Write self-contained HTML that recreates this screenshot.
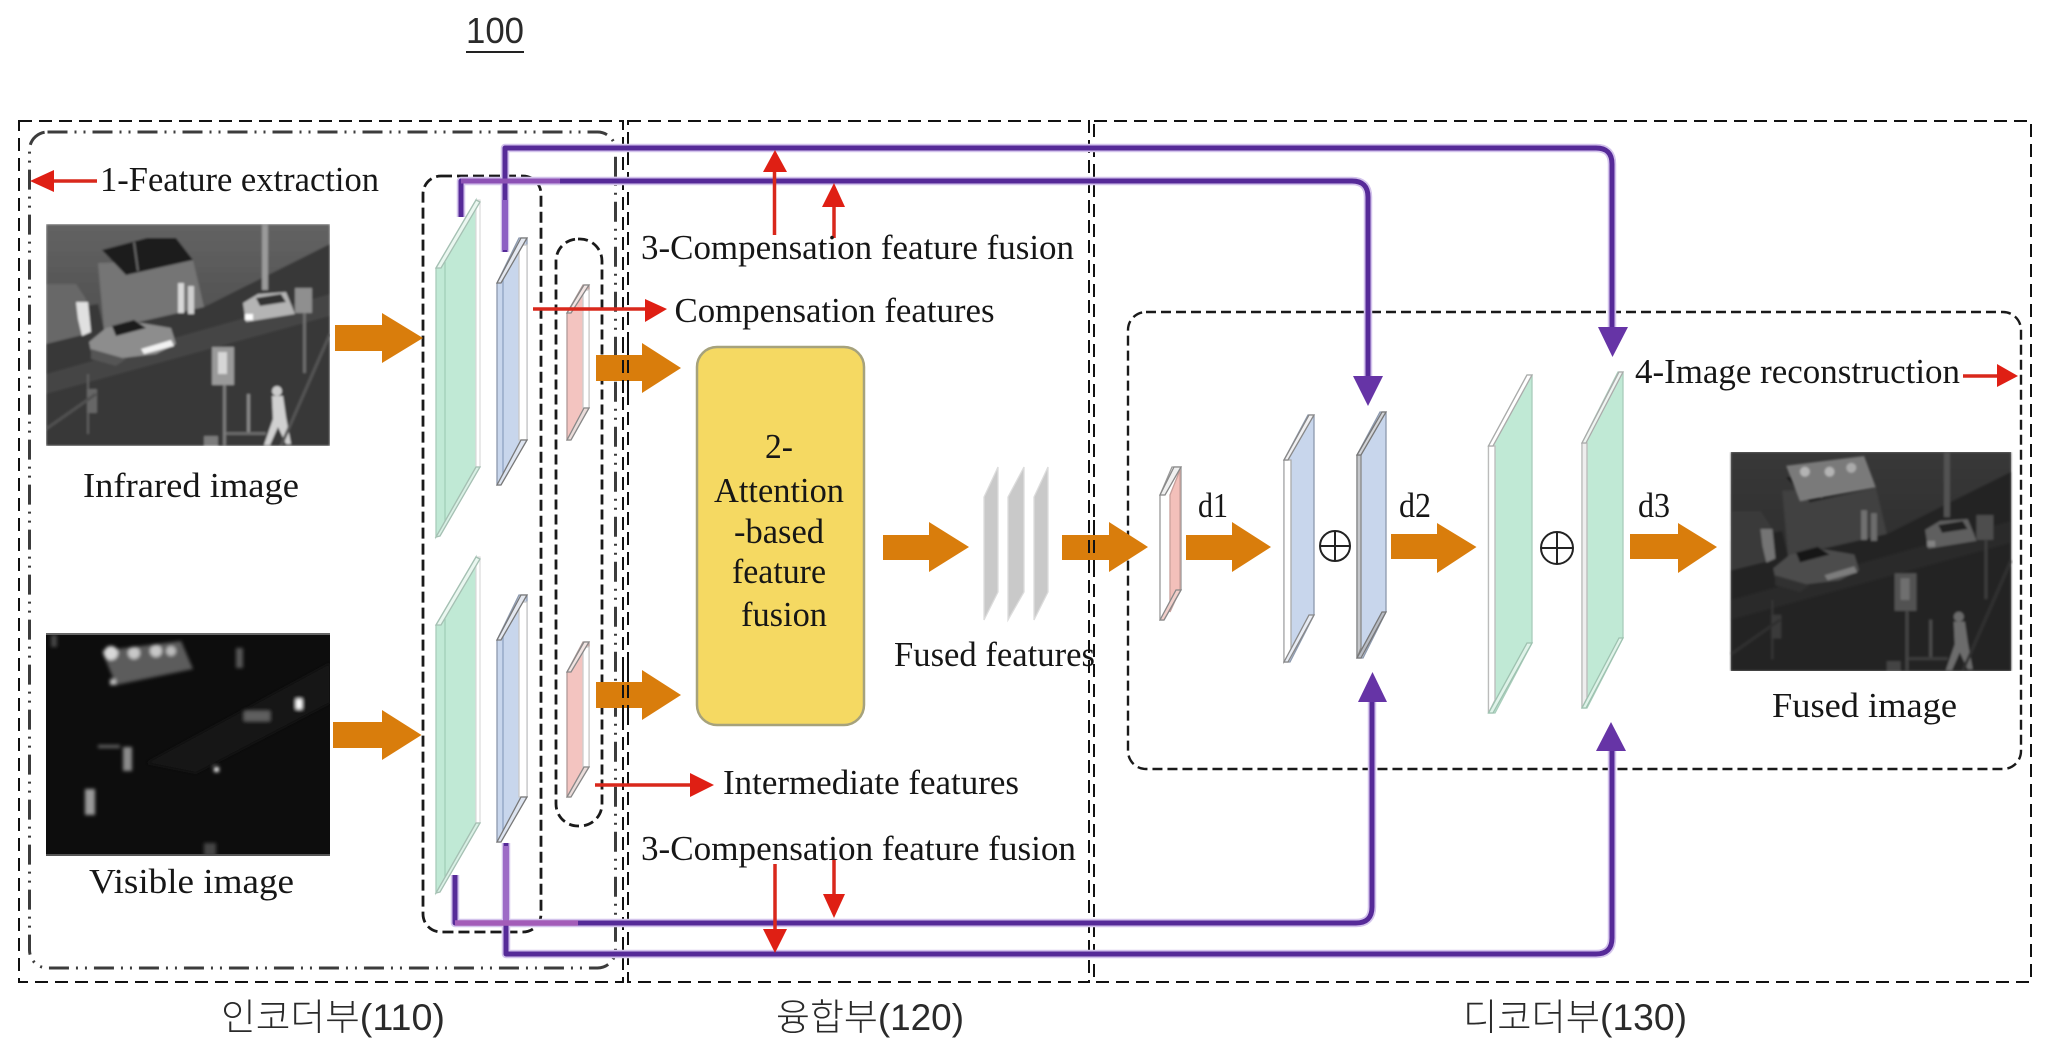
<!DOCTYPE html>
<html><head><meta charset="utf-8"><title>Diagram</title>
<style>
html,body{margin:0;padding:0;background:#fff;width:2048px;height:1063px;overflow:hidden}
svg{display:block}
.t{font-family:"Liberation Serif",serif;font-size:35px;fill:#161616}
.k{font-family:"Liberation Sans","Noto Sans CJK KR",sans-serif;font-size:37px;fill:#2a2a2a;font-weight:300}
</style></head><body>
<svg width="2048" height="1063" viewBox="0 0 2048 1063" xmlns="http://www.w3.org/2000/svg">
<defs>
<filter id="b" x="-5%" y="-5%" width="110%" height="110%"><feGaussianBlur stdDeviation="1.1"/></filter>
<filter id="b2" x="-5%" y="-5%" width="110%" height="110%"><feGaussianBlur stdDeviation="1.8"/></filter>
<linearGradient id="bg" x1="0" y1="0" x2="0" y2="1"><stop offset="0" stop-color="#636363"/><stop offset="1" stop-color="#383838"/></linearGradient>
<g id="scene" filter="url(#b)">
<rect width="284" height="222" fill="url(#bg)"/>
<path d="M0 90L52 80L58 106L158 83L284 20V222H0Z" fill="#373737"/>
<path d="M0 150L284 70V92L0 170Z" fill="#454545"/>
<path d="M52 39L147 36L158 83L58 106Z" fill="#747474"/>
<path d="M56 26L101 14L130 14L147 36L80 51Z" fill="#1f1f1f"/>
<path d="M88 18L92 47" stroke="#666" stroke-width="2"/>
<path d="M0 60H30L40 75V110L0 120Z" fill="#686868"/>
<path d="M30 78L42 78L45 108L36 112L32 95Z" fill="#e0e0e0"/>
<rect x="132" y="59" width="6" height="30" fill="#d8d8d8"/><rect x="142" y="62" width="6" height="28" fill="#cfcfcf"/>
<rect x="216" y="1" width="6" height="65" fill="#9a9a9a"/>
<path d="M197 79L212 70L240 68L249 90L200 98Z" fill="#b4b4b4"/><path d="M210 74L235 70L240 78L214 82Z" fill="#333"/>
<rect x="199" y="90" width="8" height="6" fill="#fff"/>
<rect x="249" y="64" width="17" height="25" fill="#8f8f8f"/><rect x="257" y="89" width="3" height="60" fill="#6d6d6d"/>
<path d="M43 118L60 104L90 98L125 104L130 120L110 130L60 136L46 132Z" fill="#8d8d8d"/>
<path d="M66 102L88 96L100 104L70 112Z" fill="#1a1a1a"/>
<path d="M95 125L125 116L128 122L98 130Z" fill="#f2f2f2"/>
<path d="M45 125L80 135L70 142L45 135Z" fill="#555"/>
<rect x="166" y="123" width="22" height="38" fill="#9a9a9a"/><rect x="172" y="128" width="9" height="22" fill="#d6d6d6"/>
<rect x="177" y="161" width="3" height="60" fill="#7c7c7c"/><rect x="201" y="170" width="3" height="40" fill="#8a8a8a"/>
<rect x="180" y="208" width="40" height="3" fill="#6a6a6a"/>
<rect x="41" y="150" width="2" height="60" fill="#606060"/>
<rect x="41" y="165" width="10" height="24" fill="#666"/>
<circle cx="231" cy="167" r="5" fill="#ccc"/>
<path d="M226 172H237L240 193L245 220H240L232 203L224 221H218L227 195Z" fill="#d0d0d0"/>
<rect x="158" y="212" width="14" height="10" fill="#7c7c7c"/>
<path d="M284 110L235 222" stroke="#555" stroke-width="3"/>
<path d="M0 205L50 170" stroke="#515151" stroke-width="3"/>
</g>
</defs>
<rect width="2048" height="1063" fill="#fff"/>

<!-- images -->
<svg x="46" y="224" width="284" height="222" viewBox="0 0 284 222"><use href="#scene"/></svg>
<svg x="46" y="633" width="284" height="223" viewBox="0 0 284 223">
<rect width="284" height="223" fill="#0d0d0d"/>
<g filter="url(#b2)">
<path d="M100 130L284 30V70L150 140Z" fill="#171717"/>
<path d="M56 18L135 8L147 36L70 52Z" fill="#5c5c5c"/>
<circle cx="65" cy="20" r="7" fill="#d8d8d8"/><circle cx="88" cy="20" r="6" fill="#c8c8c8"/><circle cx="110" cy="18" r="6" fill="#c8c8c8"/><circle cx="125" cy="18" r="5" fill="#bbb"/>
<rect x="64" y="46" width="6" height="6" fill="#bbb"/>
<rect x="250" y="66" width="6" height="10" fill="#fff"/>
<rect x="198" y="78" width="26" height="10" fill="#5e5e5e"/>
<rect x="77" y="114" width="9" height="24" fill="#8a8a8a"/><rect x="52" y="112" width="22" height="3" fill="#666"/>
<rect x="39" y="156" width="10" height="26" fill="#999"/>
<rect x="168" y="134" width="5" height="5" fill="#eee"/>
<rect x="158" y="210" width="12" height="13" fill="#444"/>
<rect x="190" y="15" width="7" height="20" fill="#555"/><rect x="5" y="2" width="6" height="12" fill="#444"/>
</g>
<rect width="284" height="2" fill="#666"/><rect y="221" width="284" height="2" fill="#555"/>
</svg>
<svg x="1729" y="452" width="284" height="219" viewBox="0 0 284 222">
<use href="#scene"/>
<rect width="284" height="222" fill="#111" opacity=".52"/>
<g filter="url(#b)"><path d="M56 14L135 4L147 36L70 50Z" fill="#7a7a7a"/><circle cx="75" cy="20" r="5" fill="#b4b4b4"/><circle cx="100" cy="20" r="5" fill="#b4b4b4"/><circle cx="122" cy="16" r="5" fill="#aaa"/></g>
</svg>

<!-- region boxes -->
<g fill="none" stroke="#111" stroke-width="2" stroke-dasharray="13 7">
<rect x="19" y="121" width="604" height="861"/>
<rect x="628" y="121" width="461" height="861"/>
<rect x="1094" y="121" width="937" height="861"/>
</g>
<rect x="29.5" y="132" width="586" height="836" rx="18" fill="none" stroke="#3c3c3c" stroke-width="3" stroke-dasharray="20 7 2 7 2 7"/>
<rect x="423" y="176" width="118" height="756" rx="18" fill="none" stroke="#1a1a1a" stroke-width="2.8" stroke-dasharray="11 5"/>
<rect x="556" y="239" width="46" height="587" rx="22" fill="none" stroke="#1a1a1a" stroke-width="2.8" stroke-dasharray="10 5"/>
<rect x="1128" y="312" width="893" height="457" rx="18" fill="none" stroke="#1a1a1a" stroke-width="2.4" stroke-dasharray="10 5"/>

<!-- layers -->
<g stroke-width="1.3">
<path d="M436 268L476 200V467L436 537Z" fill="#c0e9d5" stroke="#a9cdbb"/>
<path d="M445 262V522" stroke="#a2cfb9" fill="none"/>
<path d="M476 200H480V467H476Z" fill="#fff" stroke="#ddd"/>
<path d="M436 268L441 268L480 202L476 200Z" fill="#eaf7f0" stroke="#a5c0b3"/>
<path d="M436 537L440 536L480 467L476 467Z" fill="#d9f0e5" stroke="#a5c0b3"/>
<path d="M436 625L476 557V823L436 893Z" fill="#c0e9d5" stroke="#a9cdbb"/>
<path d="M445 619V878" stroke="#a2cfb9" fill="none"/>
<path d="M476 557H480V823H476Z" fill="#fff" stroke="#ddd"/>
<path d="M436 625L441 625L480 559L476 557Z" fill="#eaf7f0" stroke="#a5c0b3"/>
<path d="M436 893L440 892L480 823L476 823Z" fill="#d9f0e5" stroke="#a5c0b3"/>
<path d="M497 283L519 238H527V440L500 485H497Z" fill="#c8d6ec" stroke="#8d99ad"/>
<path d="M503 278V475" stroke="#8fa3c2" fill="none"/>
<path d="M519 245H527V440H519Z" fill="#fff" stroke="#c8c8c8"/>
<path d="M497 283L501 283L527 238H521Z" fill="#e4e8f0" stroke="#777"/>
<path d="M497 485L501 485L527 440H521Z" fill="#dde4f0" stroke="#777"/>
<path d="M497 640L519 595H527V797L500 842H497Z" fill="#c8d6ec" stroke="#8d99ad"/>
<path d="M503 635V832" stroke="#8fa3c2" fill="none"/>
<path d="M519 602H527V797H519Z" fill="#fff" stroke="#c8c8c8"/>
<path d="M497 640L501 640L527 595H521Z" fill="#e4e8f0" stroke="#777"/>
<path d="M497 842L501 842L527 797H521Z" fill="#dde4f0" stroke="#777"/>
<path d="M567 313L583 285H589V408L570 440H567Z" fill="#f3c4c0" stroke="#b09a98"/>
<path d="M583 290H589V408H583Z" fill="#fff" stroke="#ccc"/>
<path d="M567 313L571 313L589 285H584Z" fill="#f2e4e2" stroke="#888"/>
<path d="M567 440L571 440L589 408H584Z" fill="#eadcda" stroke="#888"/>
<path d="M567 672L583 642H589V767L570 797H567Z" fill="#f3c4c0" stroke="#b09a98"/>
<path d="M583 647H589V767H583Z" fill="#fff" stroke="#ccc"/>
<path d="M567 672L571 672L589 642H584Z" fill="#f2e4e2" stroke="#888"/>
<path d="M567 797L571 797L589 767H584Z" fill="#eadcda" stroke="#888"/>
<path d="M984 497L998 467V592L984 620Z" fill="#c9c9c9" stroke="#dcdcdc"/>
<path d="M1008 497L1024 467V592L1008 620Z" fill="#c9c9c9" stroke="#dcdcdc"/>
<path d="M1034 497L1048 467V592L1034 620Z" fill="#c9c9c9" stroke="#dcdcdc"/>
<path d="M1160 495L1172 467H1181V590L1164 620H1160Z" fill="#fff" stroke="#999"/>
<path d="M1170 495L1180 470V590L1170 612Z" fill="#f3c0ba" stroke="#c9a09c"/>
<path d="M1160 495L1165 495L1181 467H1174Z" fill="#f0f0f0" stroke="#888"/>
<path d="M1160 620L1164 620L1181 590H1176Z" fill="#f2cfca" stroke="#888"/>
<path d="M1284 460L1308 415H1314V615L1290 662H1284Z" fill="#c8d6ec" stroke="#8d99ad"/>
<path d="M1284 460H1291V650L1284 662Z" fill="#fff" stroke="#aaa"/>
<path d="M1284 460L1288 460L1314 415H1309Z" fill="#f0f0f2" stroke="#888"/>
<path d="M1284 662L1288 662L1314 615H1309Z" fill="#e8ecf4" stroke="#888"/>
<path d="M1357 455L1380 412H1386V612L1363 658H1357Z" fill="#c8d6ec" stroke="#8d99ad"/>
<path d="M1357 455H1361V648L1357 658Z" fill="#c4c6ca" stroke="#888"/>
<path d="M1357 455L1361 455L1386 412H1382Z" fill="#d2d4d8" stroke="#777"/>
<path d="M1357 658L1361 658L1386 612H1382Z" fill="#b8bcc4" stroke="#777"/>
<path d="M1488.5 446L1527 375H1532V643L1495 713H1488.5Z" fill="#c0e9d5" stroke="#a9cdbb"/>
<path d="M1488.5 446H1495V700L1488.5 713Z" fill="#fff" stroke="#bbb"/>
<path d="M1488.5 446L1493 446L1532 375H1527Z" fill="#fff" stroke="#aaa"/>
<path d="M1488.5 713L1493 713L1532 643H1527Z" fill="#dff3e9" stroke="#9ec2b0"/>
<path d="M1582 443L1618 372H1623V638L1587 708H1582Z" fill="#c0e9d5" stroke="#a9cdbb"/>
<path d="M1582 443H1587V698L1582 708Z" fill="#eee" stroke="#bbb"/>
<path d="M1582 443L1586 443L1623 372H1619Z" fill="#eef5f1" stroke="#aaa"/>
<path d="M1582 708L1586 708L1623 638H1619Z" fill="#dff3e9" stroke="#9ec2b0"/>
</g>

<!-- yellow box -->
<rect x="697" y="347" width="167" height="378" rx="20" fill="#f5d962" stroke="#a6a27c" stroke-width="2.5"/>

<!-- orange arrows -->
<g fill="#d97d0c">
<path d="M335 325H382V313L423 338L382 363V351H335Z"/>
<path d="M333 722H382V710L421.5 735L382 760V748H333Z"/>
<path d="M596 355H642V343L681 368L642 393V381H596Z"/>
<path d="M596 682H642V670L681 695L642 720V708H596Z"/>
<path d="M883 535H929V522L969 547L929 572V560H883Z"/>
<path d="M1062 535H1109V522L1148 547L1109 572V560H1062Z"/>
<path d="M1186 535H1232V522L1271 547L1232 572V560H1186Z"/>
<path d="M1391 534H1437V523L1476.5 547L1437 573V559H1391Z"/>
<path d="M1630 534H1678V523L1717 547L1678 573V559H1630Z"/>
</g>
<g fill="none" stroke="#111" stroke-width="2" stroke-dasharray="13 7">
<path d="M623 340V400M628 340V400M623 665V725M628 665V725M1089 520V580M1094 520V580"/>
</g>

<!-- purple connectors -->
<g fill="none" stroke-linejoin="round">
<g stroke="#d3c3ec" stroke-width="8.5">
<path d="M505 252V148H1596Q1612 148 1612 164V330"/>
<path d="M461 217V181H1352Q1368 181 1368 197V380"/>
<path d="M455 875V923H1356Q1372 923 1372 907V700"/>
<path d="M506 843V954H1596Q1612 954 1612 938V750"/>
</g>
<g stroke="#562a98" stroke-width="5">
<path d="M505 252V148H1596Q1612 148 1612 164V330"/>
<path d="M461 217V181H1352Q1368 181 1368 197V380"/>
<path d="M455 875V923H1356Q1372 923 1372 907V700"/>
<path d="M506 843V954H1596Q1612 954 1612 938V750"/>
</g>
<path d="M461 181H560" stroke="#8d52b5" stroke-width="5"/>
<path d="M506 846V925" stroke="#9d6bc6" stroke-width="6"/>
<path d="M505 200V250" stroke="#8d5fc4" stroke-width="6"/>
<path d="M455 923H578" stroke="#a35cb8" stroke-width="5.5"/>
</g>
<g fill="#6634a6">
<path d="M1598 327H1628L1612.5 357Z"/>
<path d="M1353 376H1383L1368 406Z"/>
<path d="M1358 702H1387L1372.5 672Z"/>
<path d="M1596 751H1626L1611 722Z"/>
</g>

<!-- red arrows -->
<g stroke="#d9281c" stroke-width="3.5" fill="none">
<path d="M97 181H50"/><path d="M533 309H650"/>
<path d="M774.5 235V170"/><path d="M834 238V205"/>
<path d="M595 785H695"/>
<path d="M775 864V932"/><path d="M834 860V896"/>
<path d="M1963 376H2000"/>
</g>
<g fill="#df1f14">
<path d="M54 170V192L30 181Z"/>
<path d="M645 299V322L667 309Z"/>
<path d="M763 172H787L775 150Z"/>
<path d="M822 207H845L834 183Z"/>
<path d="M690 773V797L714 785Z"/>
<path d="M763 929H787L775 953Z"/>
<path d="M823 894H845L834 918Z"/>
<path d="M1997 364V387L2018 376Z"/>
</g>

<!-- oplus -->
<g fill="none" stroke="#222" stroke-width="2">
<circle cx="1335" cy="546" r="15"/><path d="M1320 546H1350M1335 531V561"/>
<circle cx="1557" cy="548" r="16"/><path d="M1541 548H1573M1557 532V564"/>
</g>

<!-- text -->
<text class="k" x="466" y="43" textLength="58" lengthAdjust="spacingAndGlyphs" style="font-size:36px">100</text>
<rect x="466" y="51" width="58" height="2" fill="#222"/>
<text class="t" x="100" y="191" textLength="279" lengthAdjust="spacingAndGlyphs">1-Feature extraction</text>
<text class="t" x="83" y="497" textLength="216" lengthAdjust="spacingAndGlyphs">Infrared image</text>
<text class="t" x="89" y="893" textLength="205" lengthAdjust="spacingAndGlyphs">Visible image</text>
<text class="t" x="641" y="259" textLength="433" lengthAdjust="spacingAndGlyphs">3-Compensation feature fusion</text>
<text class="t" x="674.5" y="322" textLength="320" lengthAdjust="spacingAndGlyphs">Compensation features</text>
<text class="t" x="765" y="458" textLength="28" lengthAdjust="spacingAndGlyphs">2-</text>
<text class="t" x="714" y="502" textLength="130" lengthAdjust="spacingAndGlyphs">Attention</text>
<text class="t" x="734" y="543" textLength="90" lengthAdjust="spacingAndGlyphs">-based</text>
<text class="t" x="732" y="583" textLength="94" lengthAdjust="spacingAndGlyphs">feature</text>
<text class="t" x="741" y="626" textLength="86" lengthAdjust="spacingAndGlyphs">fusion</text>
<text class="t" x="894" y="666" textLength="201" lengthAdjust="spacingAndGlyphs">Fused features</text>
<text class="t" x="723" y="794" textLength="296" lengthAdjust="spacingAndGlyphs">Intermediate features</text>
<text class="t" x="641" y="860" textLength="435" lengthAdjust="spacingAndGlyphs">3-Compensation feature fusion</text>
<text class="t" x="1198" y="517" textLength="30" lengthAdjust="spacingAndGlyphs">d1</text>
<text class="t" x="1399" y="517" textLength="32" lengthAdjust="spacingAndGlyphs">d2</text>
<text class="t" x="1638" y="517" textLength="32" lengthAdjust="spacingAndGlyphs">d3</text>
<text class="t" x="1635" y="383" textLength="325" lengthAdjust="spacingAndGlyphs">4-Image reconstruction</text>
<text class="t" x="1772" y="717" textLength="185" lengthAdjust="spacingAndGlyphs">Fused image</text>
<text class="k" x="221" y="1030" textLength="224" lengthAdjust="spacingAndGlyphs">인코더부(110)</text>
<text class="k" x="776" y="1030" textLength="188" lengthAdjust="spacingAndGlyphs">융합부(120)</text>
<text class="k" x="1463" y="1030" textLength="224" lengthAdjust="spacingAndGlyphs">디코더부(130)</text>
</svg>
</body></html>
